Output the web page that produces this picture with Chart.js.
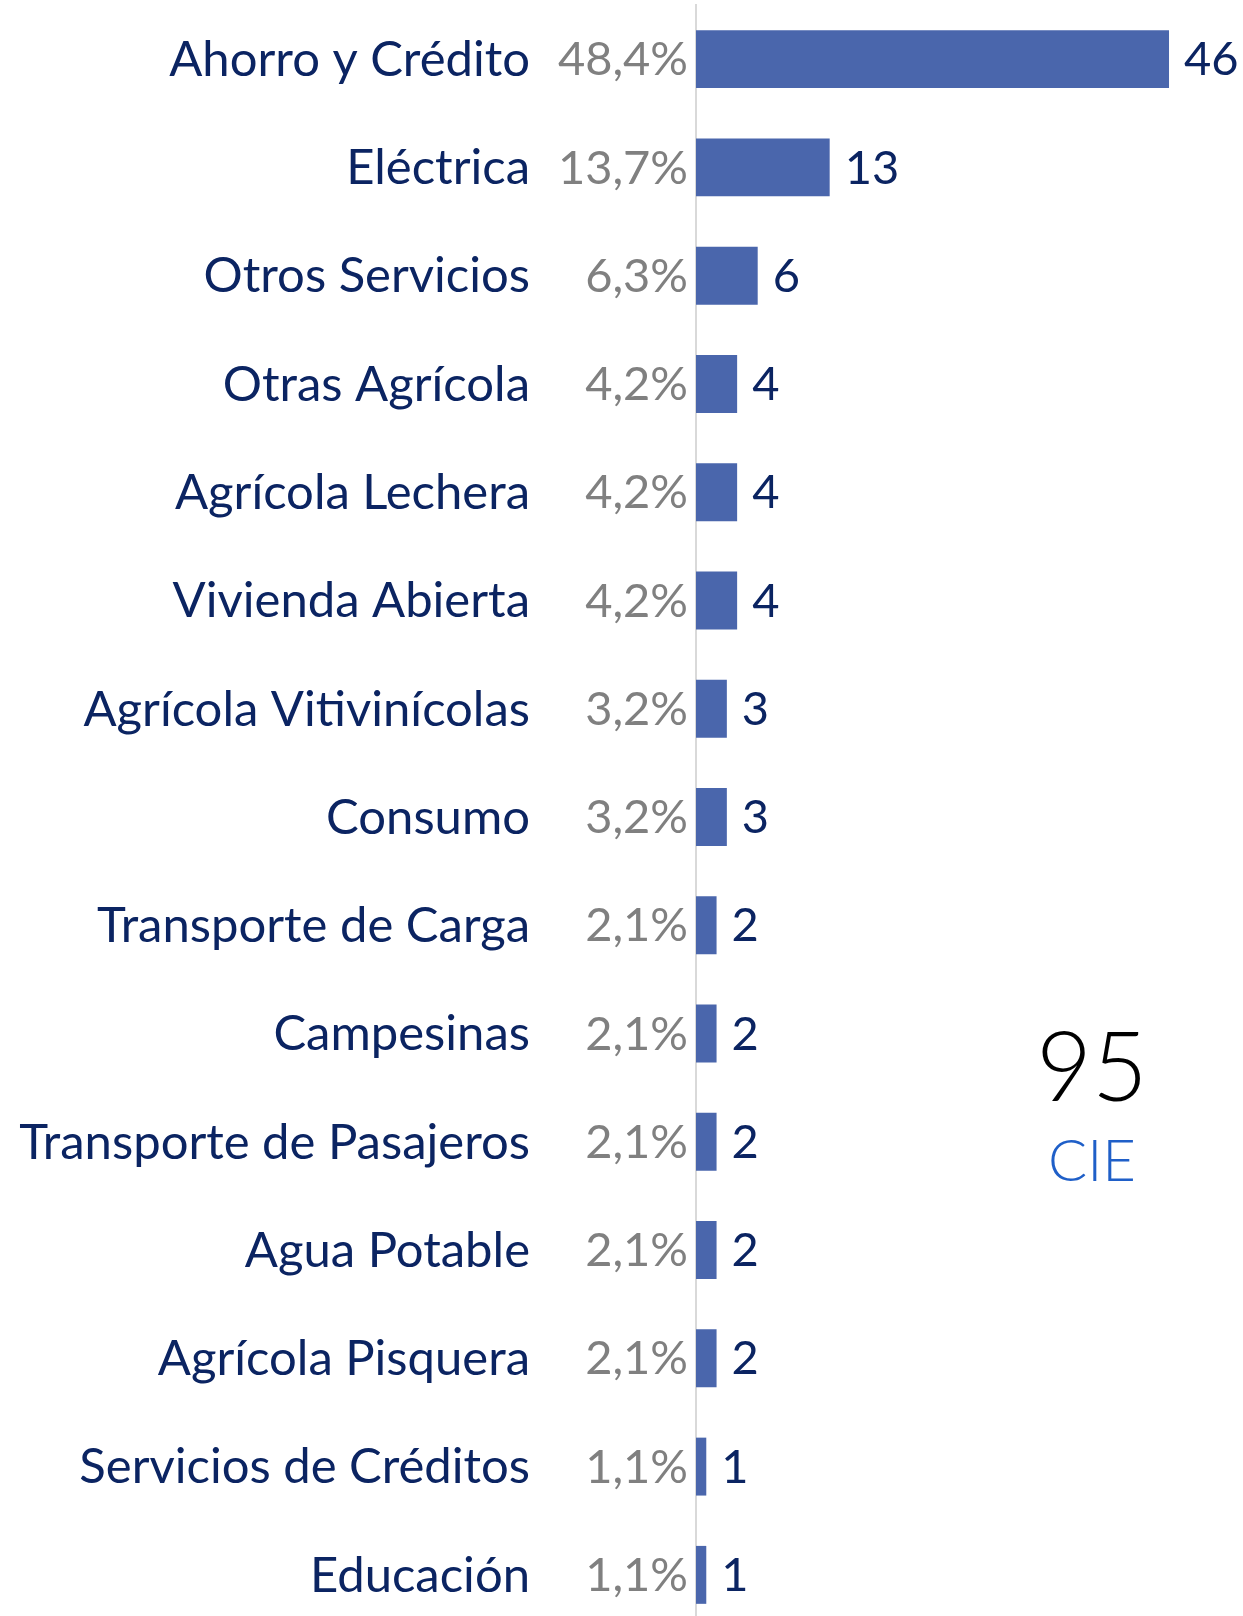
<!DOCTYPE html>
<html>
<head>
<meta charset="utf-8">
<script src="https://cdn.jsdelivr.net/npm/chart.js@4.4.1/dist/chart.umd.min.js"></script>
<style>
  html, body { margin: 0; padding: 0; background: #fff; overflow: hidden; }
  #wrap { width: 1243px; height: 1630px; position: relative; }
</style>
</head>
<body>
<div id="wrap"><canvas id="chart"></canvas></div>
<script>
const categories = [
  'Ahorro y Crédito', 'Eléctrica', 'Otros Servicios', 'Otras Agrícola',
  'Agrícola Lechera', 'Vivienda Abierta', 'Agrícola Vitivinícolas', 'Consumo',
  'Transporte de Carga', 'Campesinas', 'Transporte de Pasajeros', 'Agua Potable',
  'Agrícola Pisquera', 'Servicios de Créditos', 'Educación'
];
const counts = [46, 13, 6, 4, 4, 4, 3, 3, 2, 2, 2, 2, 2, 1, 1];
const shares = ['48,4%', '13,7%', '6,3%', '4,2%', '4,2%', '4,2%', '3,2%', '3,2%',
  '2,1%', '2,1%', '2,1%', '2,1%', '2,1%', '1,1%', '1,1%'];
const totalValue = '95';
const totalLabel = 'CIE';

const navy = '#0b2462';
const catFont = '49px Lato, "Open Sans", sans-serif';
const numFont = '47px Lato, "Open Sans", sans-serif';

// draws category names, percentages, bar values and the total
const labelsPlugin = {
  id: 'labels',
  afterDatasetsDraw(chart) {
    const { ctx, scales: { x, y } } = chart;
    ctx.save();
    ctx.textBaseline = 'middle';
    categories.forEach((cat, i) => {
      const py = y.getPixelForValue(i) + 1;
      ctx.textAlign = 'right';
      ctx.font = catFont;
      ctx.fillStyle = navy;
      ctx.fillText(cat, 530, py);
      ctx.font = numFont;
      ctx.fillStyle = '#808080';
      ctx.fillText(shares[i], 688, py);
      ctx.textAlign = 'left';
      ctx.fillStyle = navy;
      ctx.fillText(String(counts[i]), x.getPixelForValue(counts[i]) + 15, py);
    });
    ctx.textAlign = 'center';
    ctx.fillStyle = '#000';
    ctx.font = '300 96px Lato, sans-serif';
    ctx.fillText(totalValue, 1092, 1070);
    ctx.fillStyle = '#1f5fc8';
    ctx.font = '300 58px Lato, sans-serif';
    ctx.fillText(totalLabel, 1092, 1162);
    ctx.restore();
  }
};

new Chart(document.getElementById('chart'), {
  type: 'bar',
  data: {
    labels: categories,
    datasets: [{
      data: counts,
      backgroundColor: '#4a66ac',
      barPercentage: 0.535,
      categoryPercentage: 1
    }]
  },
  options: {
    indexAxis: 'y',
    responsive: true,
    maintainAspectRatio: false,
    animation: false,
    layout: { padding: { top: 5, bottom: 1, right: 2, left: 0 } },
    plugins: { legend: { display: false }, tooltip: { enabled: false } },
    scales: {
      x: { display: false, min: 0, max: 53 },
      y: {
        ticks: { display: false },
        grid: { display: false },
        border: { display: true, color: '#d9d9d9', width: 2 },
        afterFit(scale) { scale.width = 696; }
      }
    }
  },
  plugins: [labelsPlugin]
});
</script>
</body>
</html>
